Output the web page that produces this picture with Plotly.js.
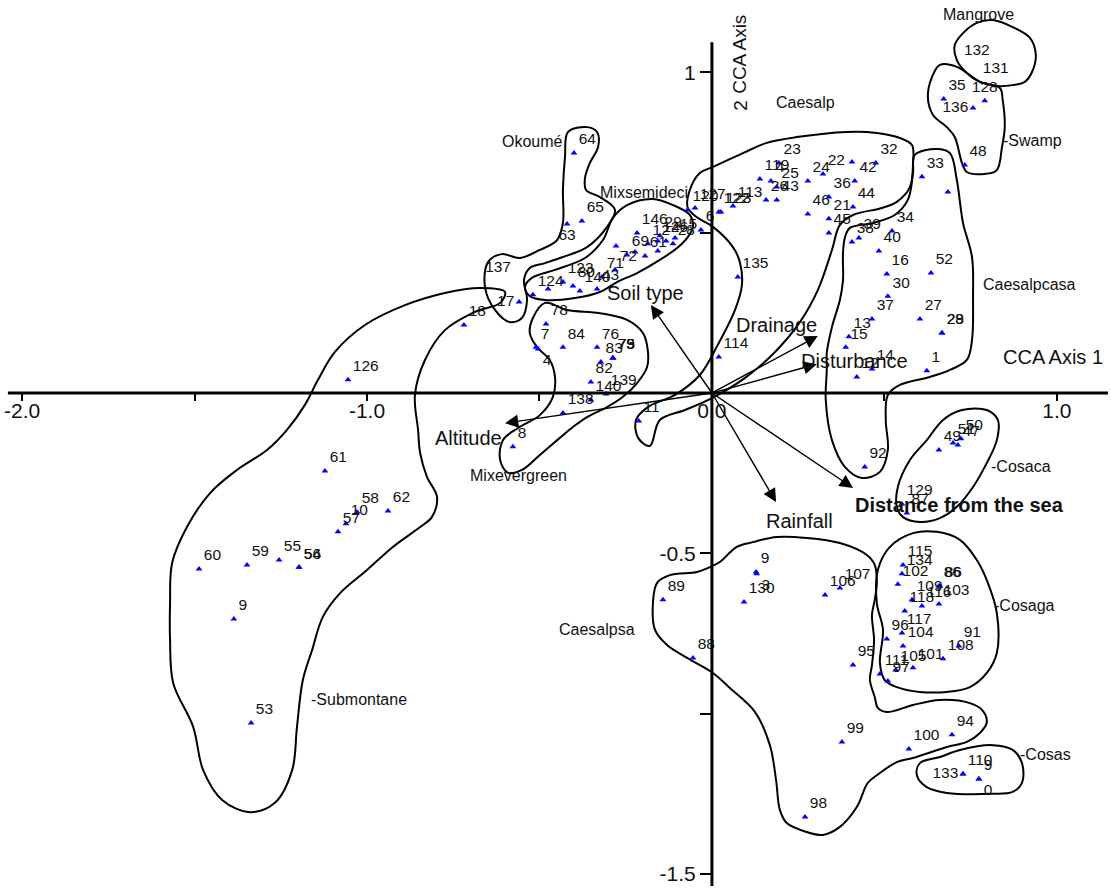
<!DOCTYPE html>
<html><head><meta charset="utf-8">
<script src="https://cdn.plot.ly/plotly-3.0.1.min.js"></script>
<style>html,body{margin:0;padding:0;background:#fff;}#chart{width:1111px;height:888px;}</style>
</head><body><div id="chart"></div>
<script>
// ---------- DATA ----------
const siteLabels = ["64","65","146","29","15","12","14","26","28","","69","","61","","72","71","43","140","80","123","","124",
"120","127","122","123","113","6","119","4","23","25","26","43","24","22","","32","42","36","44","46","21","45","38","39","34","33","","48",
"40","16","52","30","37","27","28","29","13","15","14","12","1","135","114","11","18","126","78","7","84","76","83","73","75","79","82","139","140","138","8",
"61","58","10","57","62","60","59","55","56","54","9","53",
"9","130","106","107","89","88","95","99","100","94","98","110","9",
"115","134","102","86","86","109","116","103","118","117","96","104","91","108","101","105","111","97",
"49","51","47","50","129","87","92","35"];
const siteX = [-0.400,-0.377,-0.217,-0.151,-0.107,-0.186,-0.157,-0.133,-0.113,-0.278,-0.246,-0.223,-0.194,-0.157,-0.281,-0.319,-0.333,-0.383,-0.403,-0.432,-0.475,-0.519,
-0.070,-0.049,0.020,0.026,0.061,-0.032,0.139,0.171,0.194,0.188,0.157,0.188,0.278,0.322,0.406,0.475,0.414,0.339,0.409,0.278,0.339,0.339,0.406,0.426,0.522,0.609,0.684,0.733,
0.484,0.507,0.635,0.510,0.464,0.603,0.667,0.667,0.397,0.388,0.464,0.420,0.623,0.075,0.020,-0.212,-0.719,-1.055,-0.481,-0.510,-0.432,-0.333,-0.322,-0.287,-0.287,-0.287,-0.351,-0.307,-0.351,-0.432,-0.577,
-1.122,-1.029,-1.061,-1.084,-0.939,-1.487,-1.348,-1.255,-1.197,-1.197,-1.386,-1.336,
0.128,0.093,0.328,0.371,-0.142,-0.055,0.409,0.377,0.571,0.696,0.270,0.728,0.774,
0.554,0.551,0.539,0.658,0.661,0.580,0.609,0.658,0.559,0.551,0.507,0.554,0.716,0.670,0.583,0.533,0.487,0.510,
0.658,0.699,0.713,0.722,0.551,0.565,0.443,0.672];
const siteY = [0.748,0.536,0.499,0.490,0.483,0.465,0.474,0.474,0.465,0.458,0.430,0.440,0.427,0.443,0.384,0.362,0.324,0.318,0.334,0.346,0.324,0.306,
0.571,0.577,0.564,0.564,0.583,0.508,0.667,0.661,0.717,0.642,0.602,0.602,0.661,0.683,0.720,0.717,0.661,0.611,0.580,0.558,0.543,0.499,0.471,0.483,0.505,0.674,0.627,0.711,
0.443,0.371,0.374,0.302,0.231,0.231,0.187,0.187,0.175,0.143,0.075,0.050,0.069,0.362,0.112,-0.087,0.212,0.041,0.215,0.143,0.143,0.143,0.097,0.109,0.109,0.109,0.034,-0.003,-0.022,-0.062,-0.168,
-0.243,-0.371,-0.408,-0.433,-0.368,-0.549,-0.536,-0.521,-0.543,-0.543,-0.705,-1.029,
-0.558,-0.652,-0.630,-0.608,-0.645,-0.826,-0.848,-1.088,-1.110,-1.066,-1.322,-1.188,-1.204,
-0.536,-0.564,-0.596,-0.602,-0.602,-0.645,-0.664,-0.658,-0.680,-0.748,-0.767,-0.789,-0.789,-0.829,-0.857,-0.864,-0.876,-0.898,
-0.178,-0.156,-0.162,-0.143,-0.346,-0.374,-0.231,0.917];

// sites whose label sits below the marker
const belowLabels = ["4","3","0"];
const belowX = [-0.504,0.130,0.774];
const belowY = [0.137,-0.564,-1.204];
const belowCenterLabels = ["63"];
const belowCenterX = [-0.420];
const belowCenterY = [0.527];
// sites whose label sits left of the marker
const leftLabels = ["133","136","17"];
const leftX = [0.728,0.757,-0.559];
const leftY = [-1.188,0.889,0.284];
// site whose label sits centred above the marker
const aboveLabels = ["128"];
const aboveX = [0.791];
const aboveY = [0.911];
// labels drawn without a marker
const noteLabels = ["132","131","137"];
const noteX = [0.768,0.823,-0.620];
const noteY = [1.066,1.010,0.390];

// environmental vectors (CCA biplot arrows)
const envNames = ["Soil type","Drainage","Disturbance","Altitude","Rainfall","Distance from the sea"];
const envX = [-0.177,0.307,0.304,-0.600,0.186,0.409];
const envY = [0.274,0.178,0.090,-0.094,-0.340,-0.296];

// tick labels
const xTickVals = [-2.0,-1.5,-1.0,-0.5,0.0,0.5,1.0];
const xTickText = ["-2.0","","-1.0","","0.0","","1.0"];
const yTickVals = [1.0,0.5,0.0,-0.5,-1.0,-1.5];
const yTickText = ["1","","","-0.5","","-1.5"];

// group contours
const mangroveX = [0.768,0.814,0.872,0.922,0.939,0.928,0.907,0.872,0.826,0.777,0.739,0.710,0.704,0.728,0.768];
const mangroveY = [1.154,1.163,1.141,1.107,1.054,1.001,0.970,0.960,0.957,0.970,0.998,1.038,1.085,1.122,1.154];
const swampX = [0.661,0.710,0.777,0.835,0.843,0.849,0.841,0.826,0.791,0.739,0.725,0.704,0.681,0.641,0.626,0.638,0.661];
const swampY = [1.023,1.017,0.970,0.951,0.914,0.829,0.767,0.695,0.683,0.689,0.717,0.798,0.829,0.867,0.923,0.985,1.023];
const caesalpcasaX = [0.588,0.652,0.690,0.710,0.728,0.754,0.757,0.754,0.739,0.690,0.632,0.545,0.510,0.504,0.510,0.487,0.435,0.386,0.348,0.330,0.333,0.333,0.348,0.371,0.380,0.380,0.386,0.400,0.467,0.530,0.568,0.583,0.588];
const caesalpcasaY = [0.742,0.761,0.748,0.664,0.530,0.424,0.299,0.165,0.103,0.072,0.050,0.025,-0.006,-0.084,-0.178,-0.246,-0.265,-0.231,-0.147,-0.022,0.072,0.125,0.206,0.290,0.352,0.437,0.486,0.515,0.530,0.555,0.602,0.686,0.742];
const caesalpX = [-0.035,0.003,0.090,0.159,0.246,0.391,0.478,0.545,0.580,0.583,0.574,0.536,0.493,0.409,0.371,0.348,0.307,0.255,0.183,0.096,0.000,-0.078,-0.151,-0.180,-0.214,-0.220,-0.186,-0.107,-0.035,0.017,0.067,0.087,0.081,0.061,0.003,-0.041,-0.070,-0.064,-0.035];
const caesalpY = [0.686,0.705,0.748,0.780,0.798,0.814,0.811,0.795,0.773,0.717,0.642,0.596,0.577,0.555,0.524,0.446,0.321,0.221,0.128,0.047,-0.016,-0.053,-0.084,-0.165,-0.140,-0.084,-0.044,-0.006,0.056,0.150,0.259,0.337,0.408,0.455,0.518,0.546,0.577,0.633,0.686];
const okoumeX = [-0.417,-0.362,-0.333,-0.330,-0.354,-0.368,-0.365,-0.325,-0.281,-0.304,-0.362,-0.432,-0.484,-0.528,-0.545,-0.536,-0.551,-0.586,-0.629,-0.658,-0.649,-0.609,-0.557,-0.499,-0.449,-0.432,-0.432,-0.426,-0.417];
const okoumeY = [0.814,0.829,0.814,0.767,0.717,0.670,0.633,0.611,0.571,0.518,0.455,0.424,0.405,0.390,0.352,0.290,0.234,0.221,0.259,0.331,0.408,0.433,0.421,0.446,0.477,0.530,0.633,0.736,0.814];
const mixsemideciX = [-0.287,-0.246,-0.171,-0.113,-0.064,-0.055,-0.070,-0.101,-0.151,-0.217,-0.275,-0.325,-0.397,-0.484,-0.528,-0.542,-0.522,-0.455,-0.368,-0.316,-0.287];
const mixsemideciY = [0.546,0.586,0.605,0.586,0.555,0.518,0.486,0.452,0.415,0.374,0.346,0.315,0.296,0.290,0.302,0.331,0.359,0.384,0.421,0.477,0.546];
const mixevergreenX = [-0.484,-0.420,-0.325,-0.246,-0.200,-0.186,-0.188,-0.217,-0.258,-0.304,-0.362,-0.403,-0.441,-0.499,-0.551,-0.591,-0.614,-0.606,-0.562,-0.499,-0.461,-0.455,-0.470,-0.507,-0.528,-0.519,-0.484];
const mixevergreenY = [0.281,0.259,0.249,0.228,0.187,0.134,0.081,0.031,-0.012,-0.044,-0.075,-0.106,-0.140,-0.193,-0.240,-0.249,-0.209,-0.147,-0.109,-0.069,-0.012,0.050,0.103,0.143,0.187,0.234,0.281];
const submontaneX = [-1.142,-1.093,-1.006,-0.890,-0.774,-0.672,-0.600,-0.614,-0.687,-0.774,-0.832,-0.861,-0.852,-0.846,-0.826,-0.797,-0.812,-0.846,-0.925,-1.000,-1.078,-1.128,-1.159,-1.186,-1.203,-1.217,-1.267,-1.339,-1.420,-1.475,-1.504,-1.562,-1.571,-1.571,-1.565,-1.522,-1.455,-1.377,-1.290,-1.232,-1.180,-1.142];
const submontaneY = [0.041,0.128,0.212,0.274,0.312,0.327,0.315,0.281,0.253,0.196,0.103,-0.006,-0.115,-0.187,-0.262,-0.324,-0.387,-0.418,-0.480,-0.552,-0.624,-0.698,-0.801,-0.895,-1.041,-1.176,-1.278,-1.307,-1.269,-1.176,-1.041,-0.904,-0.770,-0.655,-0.530,-0.418,-0.312,-0.240,-0.178,-0.115,-0.037,0.041];
const cosacaX = [0.725,0.797,0.829,0.826,0.797,0.757,0.710,0.661,0.603,0.554,0.536,0.539,0.574,0.623,0.670,0.725];
const cosacaY = [-0.053,-0.053,-0.084,-0.147,-0.218,-0.293,-0.355,-0.390,-0.402,-0.387,-0.355,-0.293,-0.209,-0.147,-0.084,-0.053];
const cosagaX = [0.583,0.652,0.719,0.768,0.800,0.826,0.826,0.797,0.748,0.681,0.603,0.536,0.501,0.487,0.496,0.478,0.481,0.516,0.583];
const cosagaY = [-0.437,-0.433,-0.458,-0.521,-0.592,-0.686,-0.811,-0.873,-0.917,-0.932,-0.932,-0.917,-0.895,-0.842,-0.739,-0.655,-0.552,-0.480,-0.437];
const caesalpsaX = [-0.006,0.023,0.072,0.119,0.188,0.275,0.371,0.449,0.472,0.478,0.472,0.464,0.470,0.464,0.458,0.472,0.481,0.507,0.583,0.661,0.748,0.783,0.797,0.777,0.739,0.681,0.583,0.536,0.487,0.452,0.420,0.371,0.322,0.275,0.217,0.197,0.186,0.168,0.125,0.052,0.003,-0.072,-0.130,-0.165,-0.171,-0.159,-0.122,-0.043,-0.006];
const caesalpsaY = [-0.543,-0.527,-0.480,-0.465,-0.449,-0.452,-0.468,-0.505,-0.536,-0.592,-0.645,-0.692,-0.770,-0.848,-0.895,-0.948,-0.982,-0.995,-0.973,-0.957,-0.967,-0.988,-1.026,-1.060,-1.088,-1.104,-1.138,-1.151,-1.185,-1.216,-1.291,-1.353,-1.378,-1.369,-1.341,-1.300,-1.207,-1.098,-0.995,-0.920,-0.873,-0.826,-0.786,-0.739,-0.655,-0.592,-0.568,-0.558,-0.543];
const cosasX = [0.603,0.661,0.719,0.814,0.872,0.899,0.899,0.872,0.814,0.681,0.623,0.594,0.603];
const cosasY = [-1.154,-1.135,-1.113,-1.098,-1.113,-1.154,-1.216,-1.244,-1.250,-1.247,-1.229,-1.191,-1.154];

// ---------- DRAWING ----------
const FONT = "Liberation Sans, Arial, Helvetica, sans-serif";
const contours = [[mangroveX,mangroveY],[swampX,swampY],[caesalpcasaX,caesalpcasaY],[caesalpX,caesalpY],[okoumeX,okoumeY],
  [mixsemideciX,mixsemideciY],[mixevergreenX,mixevergreenY],[submontaneX,submontaneY],[cosacaX,cosacaY],[cosagaX,cosagaY],
  [caesalpsaX,caesalpsaY],[cosasX,cosasY]];
const traces = contours.map(c => ({x:c[0], y:c[1], type:'scatter', mode:'lines', hoverinfo:'skip',
  line:{color:'#000', width:2, shape:'spline', smoothing:1}}));
const mk = {symbol:'triangle-up', size:6, color:'#0000ff', line:{width:0}};
const tf = {family:FONT, size:15.5, color:'#111'};
function pts(x,y,t,pos,marker){ return {x:x,y:y,text:t,type:'scatter',mode: marker?'markers+text':'text',
  textposition:pos, marker:mk, textfont:tf, cliponaxis:false, hoverinfo:'text'}; }
traces.push(pts(siteX,siteY,siteLabels,'top right',true));
traces.push(pts(belowX,belowY,belowLabels,'bottom right',true));
traces.push(pts(belowCenterX,belowCenterY,belowCenterLabels,'bottom center',true));
traces.push(pts(leftX,leftY,leftLabels,'middle left',true));
traces.push(pts(aboveX,aboveY,aboveLabels,'top center',true));
traces.push(pts(noteX,noteY,noteLabels,'middle center',false));

const xr = [-2.064, 1.157], yr = [-1.5435, 1.2254];
const annotations = [];
envNames.forEach((n,i) => annotations.push({x:envX[i], y:envY[i], ax:0, ay:0, axref:'x', ayref:'y', xref:'x', yref:'y',
  text:'', showarrow:true, arrowhead:2, arrowsize:1.9, arrowwidth:1.4, arrowcolor:'#000', standoff:0, startstandoff:0}));
const envLabelPos = [[-0.194,0.312],[0.186,0.212],[0.414,0.100],[-0.707,-0.140],[0.255,-0.399],[0.719,-0.349]];
envNames.forEach((n,i) => annotations.push({x:envLabelPos[i][0], y:envLabelPos[i][1], xref:'x', yref:'y', showarrow:false,
  text: i===5 ? '<b>'+n+'</b>' : n, font:{family:FONT, size:20, color:'#111'}}));
const groups = [["Mangrove",0.774,1.179],["-Swamp",0.928,0.786],["Caesalp",0.270,0.907],["Okoumé",-0.519,0.783],
  ["Mixsemideci",-0.197,0.624],["Caesalpcasa",0.922,0.337],["Mixevergreen",-0.562,-0.256],["-Cosaca",0.896,-0.228],
  ["Caesalpsa",-0.333,-0.739],["-Cosaga",0.907,-0.664],["-Cosas",0.968,-1.126],["-Submontane",-1.023,-0.957]];
groups.forEach(g => annotations.push({x:g[1], y:g[2], xref:'x', yref:'y', showarrow:false, text:g[0],
  font:{family:FONT, size:16, color:'#111'}}));
annotations.push({x:0.988, y:0.112, xref:'x', yref:'y', showarrow:false, text:'CCA Axis 1', font:{family:FONT, size:20, color:'#111'}});
annotations.push({x:0.078, y:1.057, xref:'x', yref:'y', showarrow:false, text:'CCA Axis', textangle:-90, font:{family:FONT, size:19, color:'#111'}});
annotations.push({x:0.081, y:0.898, xref:'x', yref:'y', showarrow:false, text:'2', textangle:-90, font:{family:FONT, size:19, color:'#111'}});

const layout = {
  width:1111, height:888, margin:{l:0,r:0,t:0,b:0}, paper_bgcolor:'#fff', plot_bgcolor:'#fff', showlegend:false,
  xaxis:{range:xr, domain:[0,1], anchor:'free', position:(888-393)/888, showgrid:false, zeroline:false, showline:false,
    ticks:'outside', ticklen:7, tickwidth:2, tickcolor:'#000', tickvals:xTickVals, ticktext:xTickText, ticklabelstandoff:-8,
    tickfont:{family:FONT, size:21, color:'#111'}, fixedrange:true},
  yaxis:{range:yr, domain:[0,1], anchor:'free', position:712/1111, showgrid:false, zeroline:false, showline:false,
    ticks:'outside', ticklen:12, tickwidth:2, tickcolor:'#000', tickvals:yTickVals, ticktext:yTickText,
    tickfont:{family:FONT, size:21, color:'#111'}, fixedrange:true},
  shapes:[
    {type:'line', xref:'x', yref:'y', x0:-2.041, x1:1.148, y0:0, y1:0, line:{color:'#000', width:3}},
    {type:'line', xref:'x', yref:'y', x0:0, x1:0, y0:1.094, y1:-1.537, line:{color:'#000', width:3}}
  ],
  annotations:annotations
};
Plotly.newPlot('chart', traces, layout, {displayModeBar:false, staticPlot:true});
</script></body></html>
